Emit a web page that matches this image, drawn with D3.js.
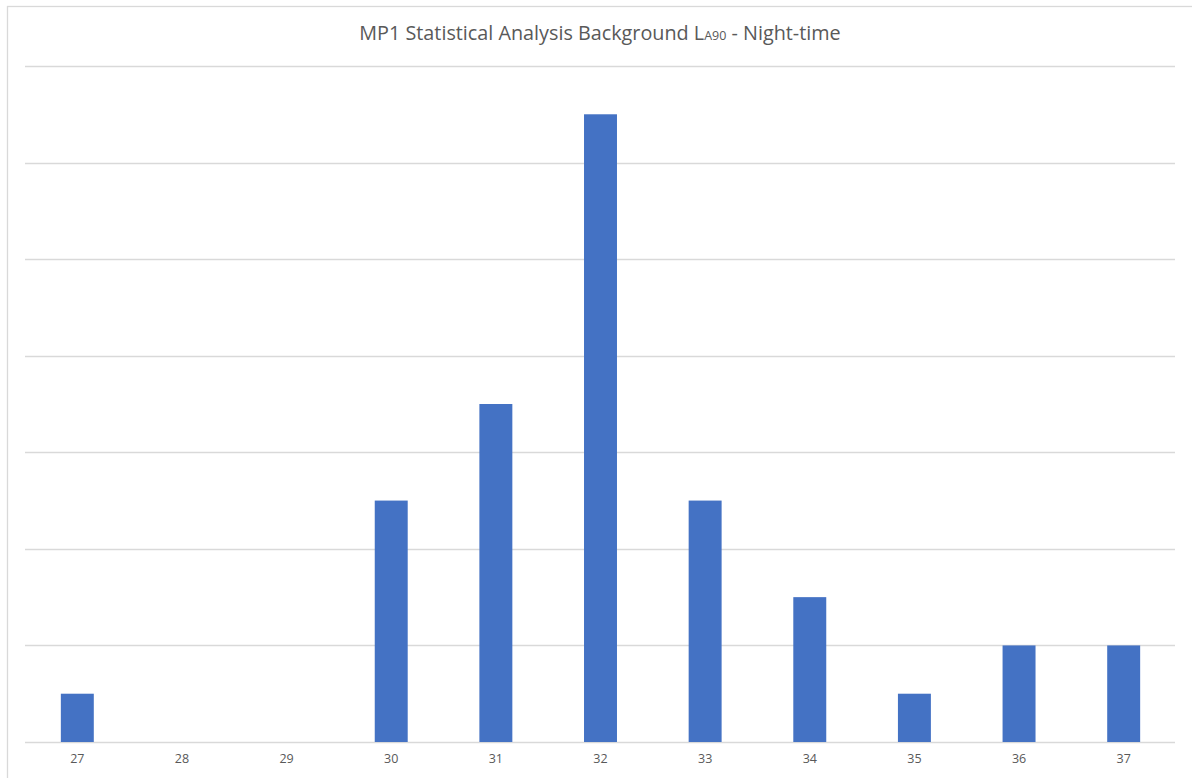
<!DOCTYPE html>
<html>
<head>
<meta charset="utf-8">
<script src="https://cdn.jsdelivr.net/npm/d3@7"></script>
<style>
  html, body { margin: 0; padding: 0; background: #fff; }
  svg { display: block; }
</style>
</head>
<body>
<svg id="chart" width="1192" height="778"></svg>
<script>
const categories = ["27", "28", "29", "30", "31", "32", "33", "34", "35", "36", "37"];
const counts = [1, 0, 0, 5, 7, 13, 5, 3, 1, 2, 2];
const yTicks = [0, 2, 4, 6, 8, 10, 12, 14];
const titleMain = "MP1 Statistical Analysis Background L";
const titleSub = "A90";
const titleEnd = " - Night-time";

const svg = d3.select("#chart");
const W = 1192, H = 778;
const m = { left: 25, right: 16, top: 66, bottom: 36 };

// outer frame
svg.append("rect")
  .attr("x", 7.5).attr("y", 6.5)
  .attr("width", W + 10).attr("height", H + 10)
  .attr("fill", "#fff").attr("stroke", "#d9d9d9").attr("stroke-width", 1.3);

const x = d3.scaleBand()
  .domain(categories)
  .range([m.left, W - m.right])
  .paddingInner(0.685)
  .paddingOuter(0.3425);

const y = d3.scaleLinear()
  .domain([0, 14])
  .range([H - m.bottom, m.top]);

// gridlines
svg.append("g")
  .selectAll("line")
  .data(yTicks)
  .join("line")
  .attr("x1", m.left).attr("x2", W - m.right - 1)
  .attr("y1", d => Math.round(y(d)) + 0.5)
  .attr("y2", d => Math.round(y(d)) + 0.5)
  .attr("stroke", "#d9d9d9").attr("stroke-width", 1.3);

// bars
svg.append("g")
  .selectAll("rect")
  .data(categories.map((c, i) => ({ c, v: counts[i] })))
  .join("rect")
  .attr("x", d => x(d.c))
  .attr("width", x.bandwidth())
  .attr("y", d => y(d.v))
  .attr("height", d => y(0) - y(d.v))
  .attr("fill", "#4472C4");

// x axis labels
const xAxis = d3.axisBottom(x).tickSize(0).tickPadding(12);
const gx = svg.append("g")
  .attr("transform", `translate(0,${y(0)})`)
  .call(xAxis);
gx.select(".domain").remove();
gx.selectAll("text")
  .attr("font-family", "Open Sans, Calibri, sans-serif")
  .attr("font-size", 12.5)
  .attr("fill", "#595959");

// title
const t = svg.append("text")
  .attr("x", 600).attr("y", 40)
  .attr("text-anchor", "middle")
  .attr("font-family", "Open Sans, Calibri, sans-serif")
  .attr("font-size", 19.8)
  .attr("fill", "#595959");
t.append("tspan").text(titleMain);
t.append("tspan").attr("font-size", 12.5).text(titleSub);
t.append("tspan").text(titleEnd);
</script>
</body>
</html>
